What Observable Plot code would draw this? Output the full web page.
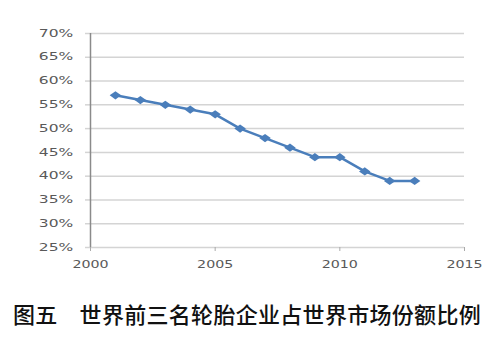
<!DOCTYPE html>
<html><head><meta charset="utf-8">
<script src="https://cdn.jsdelivr.net/npm/d3@7"></script>
<script src="https://cdn.jsdelivr.net/npm/@observablehq/plot@0.6"></script>
<style>
body{margin:0;background:#fff;}
#title{font-family:"Noto Sans CJK SC",sans-serif;font-size:22px;font-weight:500;color:#111;padding-left:13px;height:69px;line-height:56px;white-space:nowrap;letter-spacing:0.3px;}
#title .a{margin-right:22px;}
</style>
</head><body>
<div id="chart"></div>
<div id="title"><span class="a">图五</span><span>世界前三名轮胎企业占世界市场份额比例</span></div>
<script>
const years = [2001,2002,2003,2004,2005,2006,2007,2008,2009,2010,2011,2012,2013];
const share = [57,56,55,54,53,50,48,46,44,44,41,39,39];
const yTicks = [25,30,35,40,45,50,55,60,65,70];
const xTicks = [2000,2005,2010,2015];
const data = years.map((y,i)=>({year:y, share:share[i]}));

const wideDiamond = {draw(ctx, size){const r=Math.sqrt(size)/2; const w=r*1.25, h=r*0.9; ctx.moveTo(0,-h); ctx.lineTo(w,0); ctx.lineTo(0,h); ctx.lineTo(-w,0); ctx.closePath();}};

const chart = Plot.plot({
  width:500, height:285,
  marginTop:33, marginBottom:38, marginLeft:90, marginRight:36,
  style:{fontFamily:"DejaVu Sans, sans-serif", fontSize:"10px", color:"#595959", background:"#fff"},
  x:{domain:[2000,2015]},
  y:{domain:[25,70]},
  marks:[
    Plot.ruleY(yTicks, {y:d=>d, x1:2000, x2:2015, stroke:"#d4d4d4", strokeWidth:1.5}),
    Plot.axisY({ticks:yTicks, tickFormat:d=>d+"%", tickSize:5, tickPadding:12.3, stroke:"#d4d4d4", strokeWidth:1.5, label:null, fill:"#595959"}),
    Plot.axisX({ticks:xTicks, tickFormat:d=>String(d), tickSize:4, tickPadding:9, stroke:"#aaa", label:null, fill:"#595959"}),
    Plot.ruleX([2000], {y1:25, y2:70, stroke:"#8a8a8a", strokeWidth:1.5}),
    Plot.line(data, {x:"year", y:"share", stroke:"#4a7ebb", strokeWidth:2.5}),
    Plot.dot(data, {x:"year", y:"share", symbol:wideDiamond, r:5.2, fill:"#4a7ebb", stroke:"none"})
  ]
});
// stretch tick labels horizontally like the reference's wide glyphs
chart.querySelectorAll('g[aria-label="y-axis tick label"] text').forEach(t=>{
  t.setAttribute("transform", (t.getAttribute("transform")||"") + " scale(1.55,1)");
});
chart.querySelectorAll('g[aria-label="x-axis tick label"] text').forEach(t=>{
  t.setAttribute("transform", (t.getAttribute("transform")||"") + " scale(1.42,1)");
});
document.getElementById("chart").appendChild(chart);
</script>
</body></html>
